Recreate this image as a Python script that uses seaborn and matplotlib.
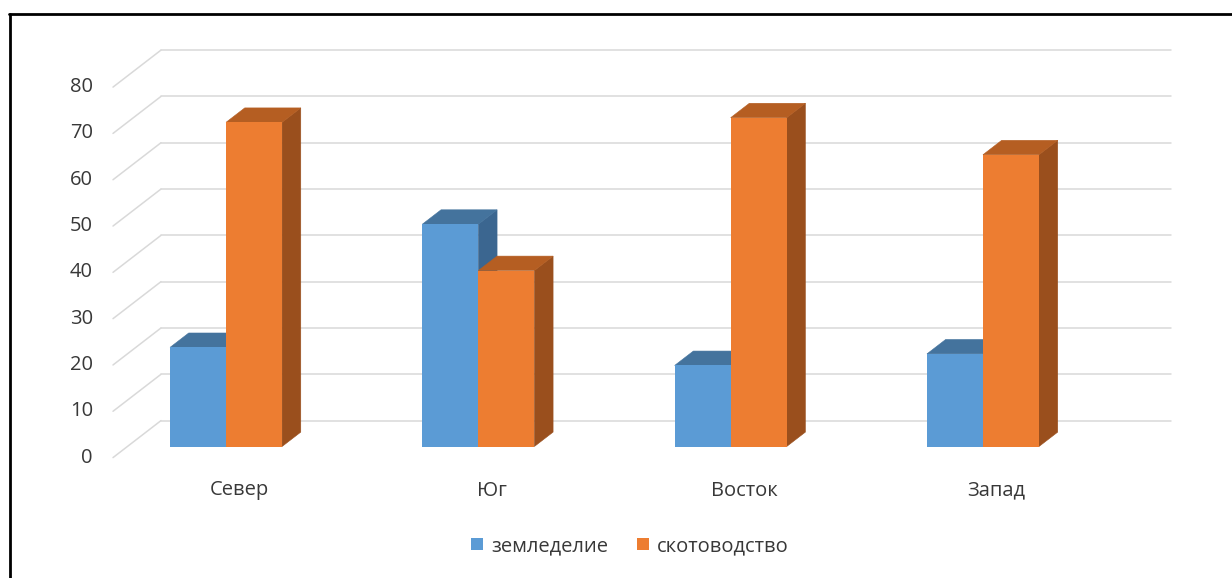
import numpy as np
import pandas as pd
import matplotlib.pyplot as plt
import seaborn as sns
from matplotlib.patches import Polygon, Patch
from matplotlib.lines import Line2D

# data
regions = ["Север", "Юг", "Восток", "Запад"]
series_names = ["земледелие", "скотоводство"]
farming = [21.4, 48, 17.5, 20]
livestock = [70, 38, 71, 63]
y_ticks = [0, 10, 20, 30, 40, 50, 60, 70, 80]

colors = ["#5B9BD5", "#ED7D31"]
top_colors = ["#44739D", "#B55E22"]
side_colors = ["#3B6690", "#9A4F1D"]
grid_color = "#D9D9D9"
text_color = "#383838"

df = pd.DataFrame({
    "region": regions * 2,
    "series": [series_names[0]] * len(regions) + [series_names[1]] * len(regions),
    "value": farming + livestock,
})

sns.set_theme(style="white")
plt.rcParams["font.family"] = ["Open Sans", "DejaVu Sans"]

W, H = 1232, 578
fig = plt.figure(figsize=(W / 100, H / 100), dpi=100)

# axes = plane of the bars' front faces (pixel layout of the original)
x0_px, x1_px = 127.4, 1137.4
y0_px, ytop_px = 446.5, 76.0
ax = fig.add_axes([x0_px / W, (H - y0_px) / H, (x1_px - x0_px) / W, (y0_px - ytop_px) / H])
xmin, xmax = -0.391, 3.612
ymax = 80

sns.barplot(data=df, x="region", y="value", hue="series", palette=colors,
            width=0.444, saturation=1, linewidth=0, legend=False, ax=ax)
ax.set_xlim(xmin, xmax)
ax.set_ylim(0, ymax)
ax.set_axis_off()

px_x = (x1_px - x0_px) / (xmax - xmin)
px_y = (y0_px - ytop_px) / ymax

# pseudo-3D offsets in pixels, converted to data units
front = (-14.4 / px_x, -11.1 / px_y)
back = (33.6 / px_x, 25.9 / px_y)
depth = (18.7 / px_x, 14.4 / px_y)

# gridlines: slanted on the left wall, flat on the back wall
for v in y_ticks:
    ax.plot([xmin + front[0], xmin + back[0]], [v + front[1], v + back[1]],
            color=grid_color, lw=1.1, zorder=1, clip_on=False)
    ax.plot([xmin + back[0], xmax + back[0]], [v + back[1], v + back[1]],
            color=grid_color, lw=1.1, zorder=1, clip_on=False)
    ax.text(xmin + front[0] - 20 / px_x, v + front[1], str(v), ha="right", va="center",
            fontsize=14.5, color=text_color)

# bars: front from seaborn, top and side faces added
bars = [p for p in ax.patches if p.get_height() > 0]
n = len(regions)
for k, bar in enumerate(bars):
    s = k // n
    z = 2 + s
    bar.set_zorder(z)
    x, w, h = bar.get_x(), bar.get_width(), bar.get_height()
    dx, dy = depth
    side = Polygon([(x + w, 0), (x + w + dx, dy), (x + w + dx, h + dy), (x + w, h)],
                   closed=True, facecolor=side_colors[s], edgecolor=side_colors[s],
                   lw=0.4, zorder=z)
    top = Polygon([(x, h), (x + dx, h + dy), (x + w + dx, h + dy), (x + w, h)],
                  closed=True, facecolor=top_colors[s], edgecolor=top_colors[s],
                  lw=0.4, zorder=z)
    ax.add_patch(side)
    ax.add_patch(top)
    bar.set_zorder(z + 0.1)

for i, name in enumerate(regions):
    ax.text(i + 13.5 / px_x, -44 / px_y, name, ha="center", va="center",
            fontsize=14.5, color=text_color, clip_on=False)

handles = [Patch(facecolor=c, edgecolor="none") for c in colors]
fig.legend(handles, series_names, loc="center", bbox_to_anchor=(630 / W, 1 - 546 / H),
           ncol=2, frameon=False, fontsize=14.5, handlelength=0.6, handleheight=0.6,
           handletextpad=0.4, columnspacing=1.45, labelcolor=text_color)

# frame edges visible in the screenshot
fig.add_artist(Line2D([9 / W, 1], [1 - 14 / H, 1 - 14 / H], transform=fig.transFigure,
                      color="black", lw=2))
fig.add_artist(Line2D([10 / W, 10 / W], [0, 1 - 14 / H], transform=fig.transFigure,
                      color="black", lw=2))

fig.savefig("out.png", dpi=100)
